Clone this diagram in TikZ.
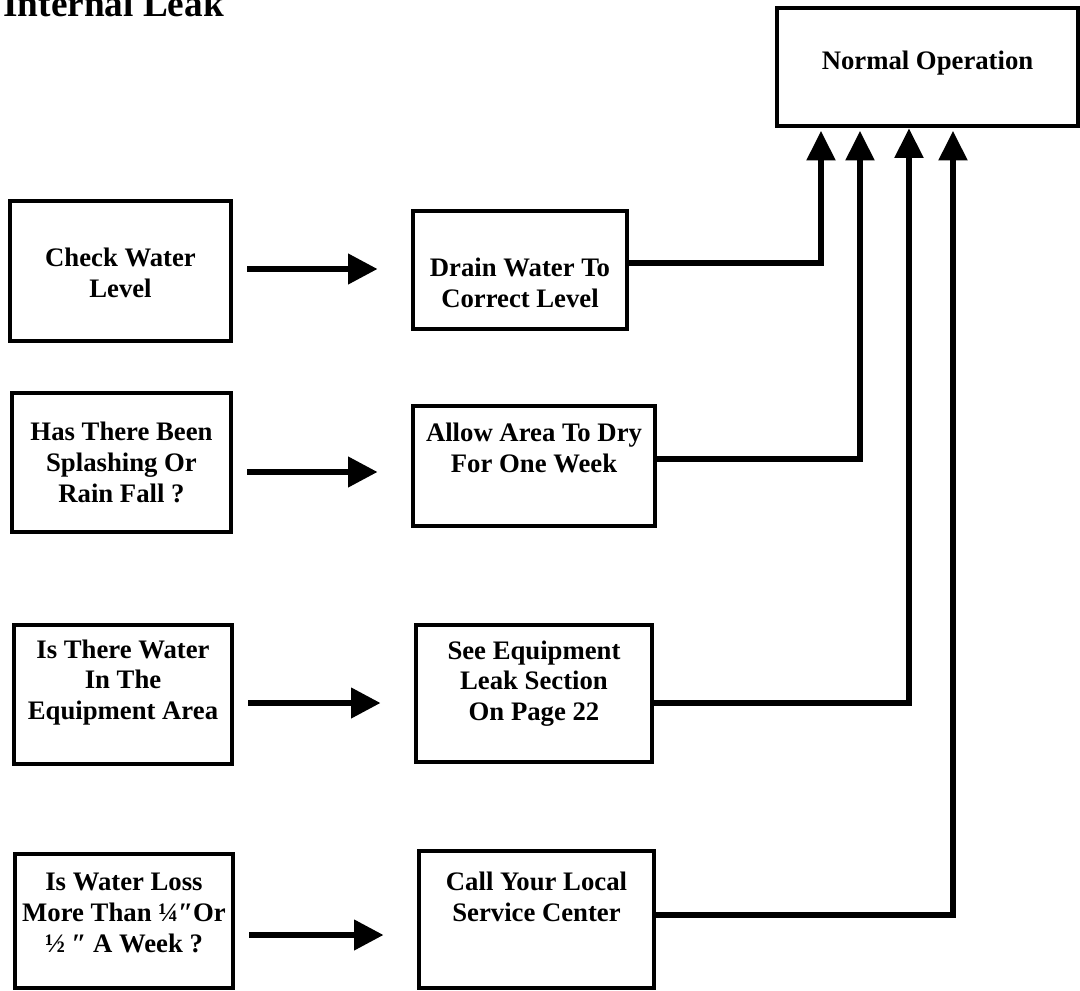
\documentclass[tikz,border=0pt]{standalone}
\usepackage{fontspec}
\setmainfont{Liberation Serif}
\usepackage{tikz}
\usetikzlibrary{arrows.meta}

\begin{document}
\begin{tikzpicture}[x=0.025cm, y=-0.025cm, line width=3.4pt,
    box/.style={draw, line width=3.4pt, inner sep=0pt},
    txt/.style={align=center, font=\bfseries\fontsize{19}{22}\selectfont},
    flow/.style={line width=4.2pt, shorten <=10pt, shorten >=23.5pt, -{Triangle[length=21pt, width=21pt]}},
    conn/.style={line width=3.6pt, shorten >=1.8pt, -{Triangle[length=21pt, width=20pt]}}]

    % fix the page size
    \useasboundingbox (0, 0) rectangle (1080, 991);

    % draw title
    \node[anchor=base west, inner sep=0pt, font=\bfseries\fontsize{26.5}{30}\selectfont] (title) at (1, 17) {Internal Leak};

    % draw goal box
    \node[box, minimum width=7.525cm, minimum height=2.95cm,
          label={[txt, yshift=3pt]center:Normal Operation}] (normal) at (927.5, 67) {};

    % draw question boxes
    \node[box, minimum width=5.525cm, minimum height=3.5cm,
          label={[txt, yshift=-1.5pt]center:{Check Water\\Level}}] (check) at (120.5, 271) {};
    \node[box, minimum width=5.475cm, minimum height=3.475cm,
          label={[txt]center:{Has There Been\\Splashing Or\\Rain Fall ?}}] (splash) at (121.5, 462.5) {};
    \node[box, minimum width=5.45cm, minimum height=3.475cm,
          label={[txt, yshift=8.5pt]center:{Is There Water\\In The\\Equipment Area}}] (equip) at (123, 694.5) {};
    \node[box, minimum width=5.45cm, minimum height=3.35cm,
          label={[txt, yshift=5.5pt]center:{Is Water Loss\\More Than ¼″Or\\½ ″ A Week ?}}] (loss) at (124, 921) {};

    % draw action boxes
    \node[box, minimum width=5.35cm, minimum height=2.95cm,
          label={[txt, yshift=-9pt]center:{Drain Water To\\Correct Level}}] (drain) at (520, 270) {};
    \node[box, minimum width=6.05cm, minimum height=3cm,
          label={[txt, yshift=13pt]center:{Allow Area To Dry\\For One Week}}] (dry) at (534, 466) {};
    \node[box, minimum width=5.9cm, minimum height=3.425cm,
          label={[txt, yshift=7pt]center:{See Equipment\\Leak Section\\On Page 22}}] (page) at (534, 693.5) {};
    \node[box, minimum width=5.875cm, minimum height=3.425cm,
          label={[txt, yshift=16pt]center:{Call Your Local\\Service Center}}] (call) at (536.5, 919.5) {};

    % draw arrows from questions to actions
    \draw[flow] (check.east |- 0,269) -- (drain.west |- 0,269);
    \draw[flow] (splash.east |- 0,472) -- (dry.west |- 0,472);
    \draw[flow] (equip.east |- 0,703) -- (page.west |- 0,703);
    \draw[flow] (loss.east |- 0,935) -- (call.west |- 0,935);

    % draw return lines to normal operation
    \draw[conn] (drain.east |- 0,263) -| (normal.south -| 821,0);
    \draw[conn] (dry.east |- 0,459) -| (normal.south -| 860,0);
    \draw[conn, shorten >=0pt] (page.east |- 0,703) -| (normal.south -| 909,0);
    \draw[conn] (call.east |- 0,915) -| (normal.south -| 953,0);

\end{tikzpicture}
\end{document}
